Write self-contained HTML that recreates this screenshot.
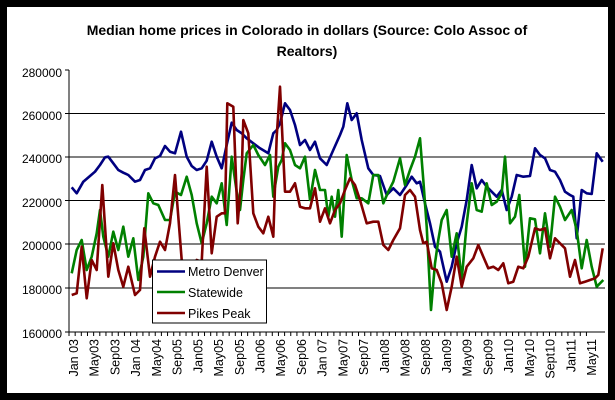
<!DOCTYPE html>
<html><head><meta charset="utf-8"><style>
html,body{margin:0;padding:0;background:#000;}
svg{display:block;}
text{font-family:"Liberation Sans",Arial,sans-serif;}
</style></head><body>
<svg width="615" height="400" xmlns="http://www.w3.org/2000/svg">
<rect x="0" y="0" width="615" height="400" fill="#000"/>
<rect x="7" y="7" width="601" height="386" fill="#fff"/>
<text x="307" y="35" font-size="14" font-weight="bold" text-anchor="middle">Median home prices in Colorado in dollars (Source: Colo Assoc of</text>
<text x="307" y="56" font-size="14" font-weight="bold" text-anchor="middle">Realtors)</text>
<g stroke="#000" stroke-width="1">
<line x1="69" y1="113.5" x2="605" y2="113.5"/>
<line x1="69" y1="157" x2="605" y2="157"/>
<line x1="69" y1="200.5" x2="605" y2="200.5"/>
<line x1="69" y1="244" x2="605" y2="244"/>
<line x1="69" y1="288" x2="605" y2="288"/>
<line x1="69" y1="332" x2="605" y2="332"/>
<line x1="69" y1="70" x2="69" y2="332"/>
<line x1="65" y1="70" x2="69" y2="70"/><line x1="65" y1="113.5" x2="69" y2="113.5"/><line x1="65" y1="157" x2="69" y2="157"/><line x1="65" y1="200.5" x2="69" y2="200.5"/><line x1="65" y1="244" x2="69" y2="244"/><line x1="65" y1="288" x2="69" y2="288"/><line x1="65" y1="332" x2="69" y2="332"/>
</g>
<path stroke="#000" stroke-width="1" fill="none" d="M69 332v4m6.16 -4v4m6.16 -4v4m6.16 -4v4m6.16 -4v4m6.16 -4v4m6.16 -4v4m6.16 -4v4m6.16 -4v4m6.16 -4v4m6.16 -4v4m6.16 -4v4m6.16 -4v4m6.16 -4v4m6.16 -4v4m6.16 -4v4m6.16 -4v4m6.16 -4v4m6.16 -4v4m6.16 -4v4m6.16 -4v4m6.16 -4v4m6.16 -4v4m6.16 -4v4m6.16 -4v4m6.16 -4v4m6.16 -4v4m6.16 -4v4m6.16 -4v4m6.16 -4v4m6.16 -4v4m6.16 -4v4m6.16 -4v4m6.16 -4v4m6.16 -4v4m6.16 -4v4m6.16 -4v4m6.16 -4v4m6.16 -4v4m6.16 -4v4m6.16 -4v4m6.16 -4v4m6.16 -4v4m6.16 -4v4m6.16 -4v4m6.16 -4v4m6.16 -4v4m6.16 -4v4m6.16 -4v4m6.16 -4v4m6.16 -4v4m6.16 -4v4m6.16 -4v4m6.16 -4v4m6.16 -4v4m6.16 -4v4m6.16 -4v4m6.16 -4v4m6.16 -4v4m6.16 -4v4m6.16 -4v4m6.16 -4v4m6.16 -4v4m6.16 -4v4m6.16 -4v4m6.16 -4v4m6.16 -4v4m6.16 -4v4m6.16 -4v4m6.16 -4v4m6.16 -4v4m6.16 -4v4m6.16 -4v4m6.16 -4v4m6.16 -4v4m6.16 -4v4m6.16 -4v4m6.16 -4v4m6.16 -4v4m6.16 -4v4m6.16 -4v4m6.16 -4v4m6.16 -4v4m6.16 -4v4m6.16 -4v4"/>
<g font-size="12" text-anchor="end">
<text x="62" y="77">280000</text><text x="62" y="120">260000</text><text x="62" y="163">240000</text><text x="62" y="207">220000</text><text x="62" y="250">200000</text><text x="62" y="294">180000</text><text x="62" y="338">160000</text>
</g>
<g font-size="12.5" text-anchor="end">
<text transform="translate(78,339) rotate(-90)">Jan 03</text>
<text transform="translate(98.7,339) rotate(-90)">May03</text>
<text transform="translate(119.4,339) rotate(-90)">Sep03</text>
<text transform="translate(140.2,339) rotate(-90)">Jan 04</text>
<text transform="translate(160.9,339) rotate(-90)">May04</text>
<text transform="translate(181.6,339) rotate(-90)">Sep05</text>
<text transform="translate(202.3,339) rotate(-90)">Jan05</text>
<text transform="translate(223,339) rotate(-90)">May05</text>
<text transform="translate(243.8,339) rotate(-90)">Sep05</text>
<text transform="translate(264.5,339) rotate(-90)">Jan06</text>
<text transform="translate(285.2,339) rotate(-90)">May06</text>
<text transform="translate(305.9,339) rotate(-90)">Sep06</text>
<text transform="translate(326.6,339) rotate(-90)">Jan 07</text>
<text transform="translate(347.4,339) rotate(-90)">May07</text>
<text transform="translate(368.1,339) rotate(-90)">Sep07</text>
<text transform="translate(388.8,339) rotate(-90)">Jan08</text>
<text transform="translate(409.5,339) rotate(-90)">May08</text>
<text transform="translate(430.2,339) rotate(-90)">Sep08</text>
<text transform="translate(451,339) rotate(-90)">Jan09</text>
<text transform="translate(471.7,339) rotate(-90)">May09</text>
<text transform="translate(492.4,339) rotate(-90)">Sep09</text>
<text transform="translate(513.1,339) rotate(-90)">Jan10</text>
<text transform="translate(533.8,339) rotate(-90)">May10</text>
<text transform="translate(554.6,339) rotate(-90)">Sept10</text>
<text transform="translate(575.3,339) rotate(-90)">Jan11</text>
<text transform="translate(596,339) rotate(-90)">May11</text>
</g>
<g fill="none" stroke-width="2.6" stroke-linejoin="round">
<polyline stroke="#000080" points="71.7,187.3 76.7,193.3 83.3,181.7 90,176 95,171.7 100,165 105,157.3 108.3,156.7 113.3,163.3 118.3,170 123.3,172.7 128.3,175 135,181.7 140,180 145,170 150,168.3 155,158.3 160,156 165,146 170,151.7 175,153.3 181,131.7 186.7,156.7 191.7,166 196.7,170 201.7,168.3 206.7,160.7 211.7,141.7 216.7,156.7 221.7,168.3 226.7,145 231.7,122.7 236.7,130 241.7,133.3 246.7,138.3 253.3,143.3 260,148.3 268.3,153.3 273.3,133.3 276.7,130 280,123.3 285,103.3 290,110 295,125 300,145 305,140 310,150 315,141.7 320,158.3 326.7,165 333.3,150 340,135 343.3,126.7 347.3,103.3 351.7,120 356.7,113.3 361.7,140 368.3,168.3 373.3,175 380,176 386.7,195 393.3,188.3 400,195 406.7,185 411.7,176.7 416.7,183.3 420,181.7 425,203.3 430,223.3 435,246.7 440,251.7 446.7,281.7 451.7,266.7 456.7,243.3 461.7,226.7 466.7,200 471.7,165 476.7,188.3 481.7,180 486.7,186.7 491.7,191.7 496.7,196.7 501.7,190 506.7,210 511.7,196.7 516.7,175 523.3,176.7 530,176 535,148.3 540,155 545,158.3 550,170 555,171.7 560,180 565,191.7 570,195 573.3,196.7 576.7,238.3 581.7,190 586.7,193.3 591.7,194 596.7,153.3 602.7,161.7"/>
<polyline stroke="#008000" points="71.7,273.3 76.7,250 81.7,240 86.7,270 91.7,256.7 96.7,233.3 100,210 103.3,236.7 108.3,256.7 113.3,231.7 118.3,250 123.3,226.7 128.3,256.7 133.3,238.3 138.3,280 143.3,256.7 148.3,193.3 153.3,203.3 158.3,205 165,220 170,220 175,191.7 181,195 186.7,176.7 191.7,195 196.7,223.3 201.7,243.3 206.7,223.3 211.7,196.7 216.7,203.3 221.7,183.3 226.7,225 231.7,156.7 236.7,191.7 240,210 243.3,180 246.7,153.3 253.3,145 258.3,155 265,165 270,155 273.3,196.7 278.3,166.7 281.7,160 285,143.3 290,150 295,165 300,168.3 305,156.7 310,200 315,170 320,190 325,190 328.3,216.7 331.7,196.7 335,216.7 338.3,190 341.7,236.7 346.7,155 351.7,180 356.7,198.3 361.7,198.3 368.3,203.3 373.3,175 378.3,175 383.3,203.3 388.3,191.7 393.3,181.7 400,158.3 405,185 410,170 415,156.7 420,138.3 423.3,180 426.7,226.7 431,310 435,263.3 438.3,240 441.7,220 446.7,210 451.7,256.7 456.7,233.3 461.7,280 466.7,223.3 471.7,183.3 476.7,210 481.7,211.7 486.7,183.3 491.7,205 496.7,201.7 501.7,193.3 505,156.7 510,223.3 515,216.7 519.3,195 525,266.7 530,218.3 535,219.3 540,253.3 545,213.3 550,246.7 555,196.7 560,206.7 565,220 571.7,210 576.7,230 581.7,268.3 586.7,240 591.7,266.7 596.7,286.7 603.3,280"/>
<polyline stroke="#800000" points="71.7,295 76.7,293.3 81.7,246.7 86.7,298.3 91.7,260 96.7,270 102.3,185 108.3,276.7 113.3,243.3 118.3,270 123.3,286.7 128.3,266.7 135,295 140,290 144.3,228.3 150,276.7 155,256.7 160,241.7 165,250 170,223.3 175,175 181.7,260 186.7,263.3 191.7,270 196.7,260 201.7,261.7 206.7,166.7 211.7,253.3 216.7,216.7 221.7,213.3 225,213.3 227.3,103.3 233.3,106.7 237.7,223.3 241.7,173.3 243.3,120 248.3,133.3 253.3,213.3 258.3,226.7 263.3,233.3 268.3,216.7 273.3,236.7 276.7,136.7 280,86.7 285,191.7 290,191.7 295,183.3 300,206.7 305,208.3 310,208.3 315,188.3 320,221.7 325,208.3 330,223.3 335,210 340,203.3 345,190 350,178.3 355,185 360,200 366.7,223.3 373.3,221.7 378.3,221.7 383.3,245 388.3,250 393.3,240 400,228.3 405,195 410,190 415,196.7 420,230 423.3,243.3 426.7,241.7 431.7,268.3 436.7,270 441.7,283.3 446.7,310 451.7,286.7 456.7,256.7 461.7,286.7 466.7,266.7 473.3,258.3 478.3,245 483.3,256.7 488.3,268.3 493.3,266.7 498.3,270 503.3,263.3 508.3,283.3 513.3,281.7 518.3,266.7 523.3,268.3 528.3,256.7 535,228.3 540,230 545,228.3 550,258.3 555,238.3 560,243.3 565,248.3 570,276.7 575,260 580,283.3 585,281.7 590,280 595,278.3 598.3,275 602.7,248.3"/>
</g>
<rect x="152.5" y="260" width="114" height="63" fill="#fff" stroke="#000" stroke-width="1"/>
<g stroke-width="2.6">
<line x1="157" y1="271.5" x2="185" y2="271.5" stroke="#000080"/>
<line x1="157" y1="292" x2="185" y2="292" stroke="#008000"/>
<line x1="157" y1="313" x2="185" y2="313" stroke="#800000"/>
</g>
<g font-size="12.5">
<text x="188" y="276">Metro Denver</text>
<text x="188" y="297">Statewide</text>
<text x="188" y="318">Pikes Peak</text>
</g>
</svg>
</body></html>
